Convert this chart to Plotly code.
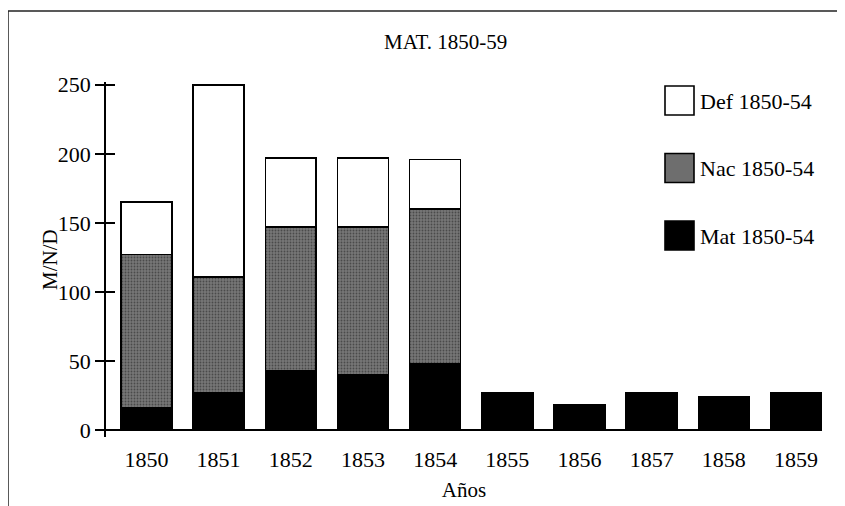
import plotly.graph_objects as go

years = ["1850", "1851", "1852", "1853", "1854", "1855", "1856", "1857", "1858", "1859"]
mat = [16, 27, 43, 40, 48, 27, 18, 27, 24, 27]
nac = [111, 84, 104, 107, 112, None, None, None, None, None]
defu = [38, 139, 50, 50, 36, None, None, None, None, None]

series_names = ["Def 1850-54", "Nac 1850-54", "Mat 1850-54"]

W, H = 845, 506
OFF = 8  # page body margin
# plot area in page pixels
PL, PR, PT, PB = 106, 822, 82, 437
SERIF = "Liberation Serif, Times New Roman, serif"
GRAY = "#6e6e6e"


def px(x):
    return (x - PL) / (PR - PL)


def py(y):
    return (PB - y) / (PB - PT)


fig = go.Figure()

fig.add_trace(go.Bar(
    x=years, y=mat, name=series_names[2],
    marker=dict(color="black", line=dict(color="black", width=1.6)),
))
fig.add_trace(go.Bar(
    x=years, y=nac, name=series_names[1],
    marker=dict(color=GRAY, line=dict(color="black", width=1.6),
                pattern=dict(shape=".", bgcolor="#777777", fgcolor="#4a4a4a",
                             size=3, solidity=0.3, fillmode="replace")),
))
fig.add_trace(go.Bar(
    x=years, y=defu, name=series_names[0],
    marker=dict(color="white", line=dict(color="black", width=1.6)),
))

# second y axis only to get ticks crossing the axis line
fig.add_trace(go.Scatter(x=[years[0]], y=[0], yaxis="y2", mode="markers",
                         marker=dict(opacity=0), showlegend=False, hoverinfo="skip"))

shapes = [
    # open frame: top and left edges
    dict(type="line", xref="paper", yref="paper", x0=px(8), x1=px(W + 20), y0=py(11), y1=py(11),
         line=dict(color="#222", width=1.5)),
    dict(type="line", xref="paper", yref="paper", x0=px(8), x1=px(8), y0=py(11), y1=py(H + 20),
         line=dict(color="#222", width=1.5)),
]

annotations = []
legend_fill = ["white", GRAY, "black"]
for i, (name, fill) in enumerate(zip(series_names, legend_fill)):
    top = 86 + i * 67.5
    shapes.append(dict(type="rect", xref="paper", yref="paper",
                       x0=px(665), x1=px(694), y0=py(top), y1=py(top + 29),
                       fillcolor=fill, line=dict(color="black", width=1.6)))
    annotations.append(dict(xref="paper", yref="paper", x=px(698), y=py(top + 15),
                            text=name, showarrow=False, xanchor="left", yanchor="middle",
                            font=dict(family=SERIF, size=22, color="black")))

annotations.append(dict(xref="paper", yref="paper", x=px(445), y=py(42), text="MAT. 1850-59",
                        showarrow=False, xanchor="center", yanchor="middle",
                        font=dict(family=SERIF, size=21, color="black")))
annotations.append(dict(xref="paper", yref="paper", x=px(50), y=py(260), text="M/N/D",
                        textangle=-90, showarrow=False, xanchor="center", yanchor="middle",
                        font=dict(family=SERIF, size=21, color="black")))

fig.update_layout(
    width=W, height=H,
    margin=dict(l=PL - OFF, r=W - (PR - OFF), t=PT - OFF, b=H - (PB - OFF), pad=0),
    paper_bgcolor="white", plot_bgcolor="white",
    barmode="stack", bargap=0.294,
    showlegend=False,
    font=dict(family=SERIF, size=22, color="black"),
    xaxis=dict(
        type="category", range=[-0.56, 9.36],
        showline=False, showgrid=False, ticks="", ticklen=0,
        ticklabelstandoff=7,
        title=dict(text="Años", standoff=11, font=dict(size=21)),
        tickfont=dict(size=22),
    ),
    yaxis=dict(
        range=[-5, 252], tickvals=[0, 50, 100, 150, 200, 250],
        showline=True, linecolor="black", linewidth=1.5,
        ticks="outside", ticklen=9, tickwidth=1.5, tickcolor="black",
        showgrid=False, zeroline=True, zerolinecolor="black", zerolinewidth=1.5,
        tickfont=dict(size=22),
    ),
    yaxis2=dict(
        overlaying="y", side="left", range=[-5, 252], tickvals=[0, 50, 100, 150, 200, 250],
        ticks="inside", ticklen=9, tickwidth=1.5, tickcolor="black",
        showticklabels=False, showgrid=False, zeroline=False, showline=False,
    ),
    shapes=shapes,
    annotations=annotations,
)

fig.write_html("out.html")
